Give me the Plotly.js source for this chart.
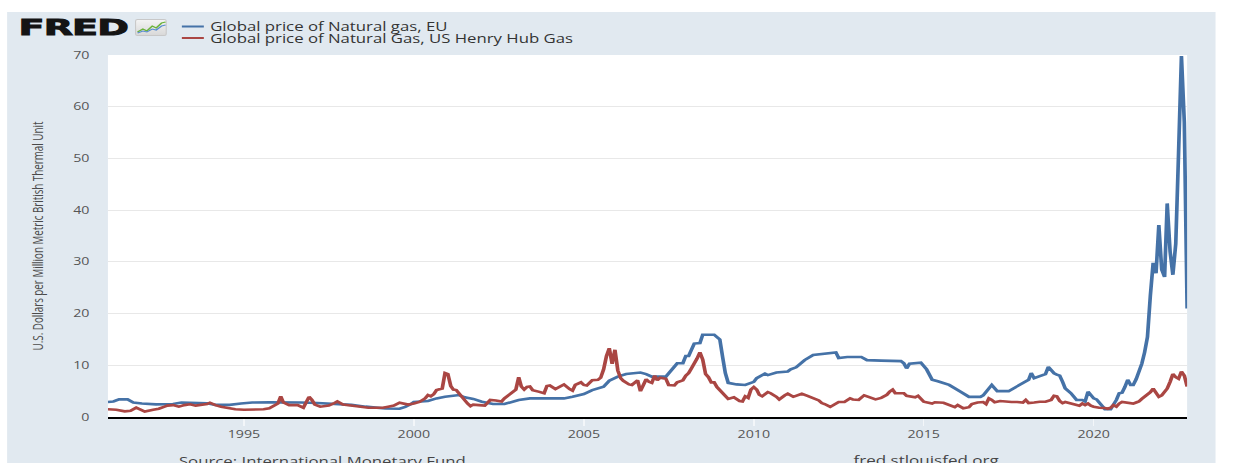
<!DOCTYPE html>
<html>
<head>
<meta charset="utf-8">
<script src="https://cdn.plot.ly/plotly-3.0.1.min.js"></script>
<style>
  html, body { margin:0; padding:0; background:#ffffff; overflow:hidden; width:1233px; height:463px; }
  #stage { position:absolute; left:0; top:0; height:463px; overflow:hidden; transform-origin:0 0; }
  #chart { position:absolute; }
  #logo { position:absolute; top:14px; font-family:"DejaVu Sans", sans-serif; font-weight:bold; font-size:22px; color:#141414; line-height:28px; transform-origin:0 0; white-space:nowrap; -webkit-text-stroke:0.9px #141414; letter-spacing:-0.5px; }
  #icon { position:absolute; }
</style>
</head>
<body>
<div id="stage">
  <div id="chart"></div>
  <div id="logo">FRED</div>
  <svg id="icon" viewBox="0 0 24 17" preserveAspectRatio="none">
    <defs><linearGradient id="g" x1="0" y1="0" x2="0" y2="1"><stop offset="0" stop-color="#f4f4f4"/><stop offset="1" stop-color="#d8d8d8"/></linearGradient></defs>
    <rect x="0.5" y="0.5" width="23" height="16" rx="1.5" fill="url(#g)" stroke="#c8c8c8" stroke-width="0.8"/>
    <polyline points="2,13 6,10 9,12 13,7 16,9 20,4 23,3" fill="none" stroke="#6bb33a" stroke-width="1.3"/>
    <polyline points="2,14 6,12 9,13 13,10 16,11 20,7 23,6" fill="none" stroke="#5b8fd0" stroke-width="1.1"/>
  </svg>
</div>
<script>
// ---------------- data ----------------
const euName = "Global price of Natural gas, EU";
const usName = "Global price of Natural Gas, US Henry Hub Gas";

const euDates = [
'1991-01','1991-03','1991-05','1991-08','1991-10',
'1992-01','1992-06','1992-12',
'1993-03','1993-08','1993-12',
'1994-03','1994-08','1994-12',
'1995-04','1995-10',
'1996-04','1996-09',
'1997-03','1997-09',
'1998-03','1998-08','1998-12',
'1999-03','1999-08','1999-10','1999-12',
'2000-01','2000-06','2000-09','2000-12',
'2001-02','2001-05','2001-07','2001-10',
'2002-01','2002-05','2002-09','2002-11',
'2003-02','2003-06',
'2004-03','2004-06','2004-09',
'2005-01','2005-04','2005-08','2005-10',
'2006-01','2006-04','2006-09','2006-11',
'2007-01','2007-06','2007-07','2007-10','2007-12',
'2008-01','2008-02','2008-04','2008-06','2008-07','2008-11',
'2009-01','2009-02','2009-03','2009-04','2009-07','2009-10',
'2010-01','2010-02','2010-04','2010-05','2010-06','2010-09',
'2011-01','2011-02','2011-04','2011-05','2011-07','2011-10',
'2012-01','2012-04','2012-06','2012-07','2012-10',
'2013-03','2013-05','2013-10',
'2014-05','2014-06','2014-07','2014-08','2014-12',
'2015-02','2015-04','2015-06','2015-10',
'2016-02','2016-05','2016-09','2016-10',
'2017-01','2017-03','2017-07','2017-09','2017-11',
'2018-01','2018-02','2018-03','2018-04','2018-06','2018-08','2018-09','2018-10','2018-11','2018-12',
'2019-01','2019-02','2019-03','2019-05','2019-06','2019-07','2019-09','2019-10','2019-11','2019-12',
'2020-01','2020-02','2020-03','2020-04','2020-05','2020-07','2020-08','2020-09','2020-10','2020-11','2020-12',
'2021-01','2021-02','2021-03','2021-04','2021-05','2021-06','2021-07','2021-08','2021-09','2021-10','2021-11','2021-12',
'2022-01','2022-02','2022-03','2022-04','2022-05','2022-06','2022-07','2022-08','2022-09','2022-10'
];
const euValues = [
2.9,3.0,3.4,3.4,2.8,
2.6,2.45,2.5,
2.8,2.75,2.65,
2.35,2.35,2.6,
2.8,2.85,
2.85,2.8,
2.7,2.5,
2.35,2.0,1.8,
1.65,1.6,1.95,2.5,
2.9,3.1,3.6,3.9,
4.1,4.25,3.8,3.5,
2.96,2.5,2.5,2.84,
3.3,3.6,
3.6,3.6,3.93,
4.45,5.2,5.87,7.0,
7.8,8.3,8.6,8.3,
7.8,7.8,8.5,10.4,10.4,
11.8,11.8,14.2,14.3,15.9,15.9,
15.0,11.5,8.5,6.6,6.3,6.2,
6.8,7.5,8.0,8.4,8.1,8.6,
8.8,9.2,9.6,10.0,11.0,12.0,
12.2,12.4,12.5,11.4,11.6,
11.6,11.0,10.9,
10.8,10.4,9.4,10.3,10.5,
9.2,7.2,6.9,6.2,
4.9,3.9,3.9,4.2,
6.2,5.0,5.0,5.6,6.3,
6.8,7.2,8.5,7.5,7.9,8.3,9.7,9.0,8.45,8.2,
8.0,6.8,5.55,4.6,4.0,3.3,3.3,3.0,4.9,4.2,
3.6,3.4,2.7,2.0,1.5,1.5,2.3,3.3,4.6,4.7,5.8,
7.2,6.2,6.2,7.3,8.8,10.3,12.5,15.5,23.5,29.8,27.8,37.1,
28.5,27.1,41.3,32,27.5,33.5,51,69.8,57,21
];

const usDates = [
'1991-01','1991-04','1991-07','1991-09','1991-11',
'1992-01','1992-02','1992-05','1992-07','1992-09','1992-10','1992-12',
'1993-02','1993-04','1993-06','1993-08','1993-10','1993-12',
'1994-01','1994-03','1994-05','1994-08','1994-10',
'1995-01','1995-05','1995-08','1995-10','1995-12',
'1996-01','1996-02','1996-03','1996-05','1996-08','1996-10','1996-11','1996-12',
'1997-01','1997-02','1997-04','1997-07','1997-09','1997-10','1997-12',
'1998-03','1998-06','1998-09','1998-12',
'1999-02','1999-04','1999-06','1999-08','1999-09','1999-11',
'2000-01','2000-03','2000-05','2000-06','2000-07','2000-08','2000-09','2000-11','2000-12',
'2001-01','2001-02','2001-03','2001-04','2001-05','2001-06','2001-07','2001-08','2001-09','2001-10','2001-12',
'2002-02','2002-03','2002-04','2002-06','2002-08','2002-09','2002-10','2002-12',
'2003-01','2003-02','2003-03','2003-04','2003-05','2003-06','2003-07','2003-09','2003-11','2003-12',
'2004-01','2004-03','2004-05','2004-06','2004-08','2004-09','2004-10','2004-12',
'2005-01','2005-02','2005-04','2005-06','2005-07','2005-08','2005-09','2005-10','2005-11','2005-12',
'2006-01','2006-02','2006-03','2006-05','2006-06','2006-08','2006-09','2006-10','2006-11','2006-12',
'2007-01','2007-02','2007-03','2007-04','2007-06','2007-07','2007-09','2007-10','2007-12',
'2008-01','2008-02','2008-03','2008-04','2008-05','2008-06','2008-07','2008-08','2008-09','2008-10','2008-11','2008-12',
'2009-01','2009-02','2009-03','2009-04','2009-06','2009-08','2009-09','2009-10','2009-11','2009-12',
'2010-01','2010-02','2010-03','2010-04','2010-06','2010-07','2010-09','2010-10','2010-12',
'2011-01','2011-03','2011-06','2011-08','2011-10','2011-12',
'2012-01','2012-02','2012-04','2012-06','2012-07','2012-09','2012-11','2012-12',
'2013-02','2013-04','2013-06','2013-08','2013-10','2013-12',
'2014-01','2014-02','2014-03','2014-06','2014-07','2014-10','2014-11','2014-12',
'2015-01','2015-04','2015-05','2015-08','2015-10','2015-12',
'2016-01','2016-03','2016-05','2016-06','2016-08','2016-10','2016-11','2016-12',
'2017-01','2017-02','2017-04','2017-06','2017-08','2017-10','2017-12',
'2018-01','2018-02','2018-04','2018-06','2018-08','2018-10','2018-11','2018-12',
'2019-01','2019-02','2019-03','2019-05','2019-07','2019-08','2019-09','2019-10','2019-11','2019-12',
'2020-01','2020-03','2020-05','2020-06','2020-07','2020-08','2020-09','2020-10','2020-11','2020-12',
'2021-01','2021-03','2021-04','2021-05','2021-06','2021-07','2021-08','2021-09','2021-10','2021-11','2021-12',
'2022-01','2022-02','2022-03','2022-04','2022-05','2022-06','2022-07','2022-08','2022-09','2022-10'
];
const usValues = [
1.5,1.4,1.1,1.2,1.8,
1.2,1.05,1.4,1.6,2.0,2.2,2.3,
2.0,2.3,2.45,2.2,2.4,2.5,
2.77,2.3,2.0,1.7,1.5,
1.4,1.45,1.5,1.7,2.3,
2.6,4.0,2.8,2.3,2.3,1.8,2.9,3.9,
3.3,2.4,2.0,2.2,2.7,3.0,2.4,
2.2,2.0,1.8,1.8,
1.8,2.0,2.2,2.75,2.6,2.4,
2.6,2.9,3.6,4.25,4.0,4.4,5.2,5.5,8.5,
8.3,6.0,5.3,5.2,4.5,4.0,3.3,2.6,2.1,2.4,2.3,
2.2,2.7,3.3,3.2,3.0,3.6,4.0,4.8,
5.3,7.7,5.9,5.3,5.8,5.9,5.2,4.9,4.6,6.0,
6.1,5.4,6.1,6.3,5.4,5.1,6.2,6.7,
6.2,6.1,7.1,7.2,7.6,9.2,11.8,13.3,10.3,13.0,
9.0,7.5,7.0,6.3,6.2,7.1,5.0,6.3,7.3,6.8,
6.6,8.0,7.1,7.6,7.4,6.2,6.1,6.7,7.1,
8.0,8.5,9.4,10.2,11.3,12.5,11.1,8.3,7.7,6.7,6.7,5.8,
5.2,4.5,4.0,3.5,3.8,3.1,3.0,4.0,3.7,5.3,
5.8,5.3,4.3,4.0,4.8,4.6,3.9,3.4,4.2,
4.5,3.9,4.5,4.1,3.6,3.2,
2.7,2.5,1.95,2.5,2.9,2.9,3.6,3.4,
3.3,4.2,3.8,3.4,3.7,4.3,
4.9,5.3,4.6,4.6,4.1,3.8,4.1,3.5,
2.95,2.6,2.85,2.75,2.3,1.9,
2.3,1.7,1.9,2.5,2.8,2.9,2.5,3.6,
3.3,2.85,3.1,2.95,2.9,2.9,2.8,
3.3,2.7,2.8,2.95,2.95,3.3,4.1,4.0,
3.1,2.7,2.9,2.6,2.4,2.2,2.6,2.3,2.6,2.2,
2.0,1.8,1.75,1.6,1.8,2.3,2.0,2.6,2.9,2.8,
2.7,2.6,2.8,3.0,3.5,3.9,4.2,4.8,5.5,4.8,3.9,
4.2,4.8,5.5,6.8,8.3,7.7,7.4,8.8,8.0,5.9
];

const xTickVals = ['1995-01-01','2000-01-01','2005-01-01','2010-01-01','2015-01-01','2020-01-01'];
const xTickText = ['1995','2000','2005','2010','2015','2020'];
const yTickVals = [0,10,20,30,40,50,60,70];
const yTitle = "U.S. Dollars per Million Metric British Thermal Unit";
const sourceText = "Source: International Monetary Fund";
const siteText = "fred.stlouisfed.org";

// ---------------- geometry (screen pixels of the reference) ----------------
const SX = 1.42;                       // the reference is stretched horizontally
const PANEL = {left: 7, right: 1216, top: 12, height: 480};
const PLOT = {left: 108, right: 1188, top: 55, bottom: 417};
const px = sx => (sx - PLOT.left) / (PLOT.right - PLOT.left);
const py = sy => (PLOT.bottom - sy) / (PLOT.bottom - PLOT.top);

const stage = document.getElementById('stage');
stage.style.width = (1233 / SX) + 'px';
stage.style.transform = 'scaleX(' + SX + ')';
const chart = document.getElementById('chart');
chart.style.left = (PANEL.left / SX) + 'px';
chart.style.top = PANEL.top + 'px';
chart.style.width = ((PANEL.right - PANEL.left) / SX) + 'px';
chart.style.height = PANEL.height + 'px';

const logo = document.getElementById('logo');
logo.style.left = (19 / SX) + 'px';
logo.style.transform = 'scaleX(1.22)';
const icon = document.getElementById('icon');
icon.style.left = (135 / SX) + 'px';
icon.style.top = '19px';
icon.style.width = (32 / SX) + 'px';
icon.style.height = '17px';

const BLUE = '#4572a7', RED = '#aa4643';
const FONT = '"Open Sans", "DejaVu Sans", sans-serif';
const NARROW = '"Liberation Sans Narrow", "Arial Narrow", "Open Sans", sans-serif';

const traces = [
  {x: euDates, y: euValues, name: euName, type: 'scatter', mode: 'lines',
   line: {color: BLUE, width: 2.6}, hoverinfo: 'skip'},
  {x: usDates, y: usValues, name: usName, type: 'scatter', mode: 'lines',
   line: {color: RED, width: 2.6}, hoverinfo: 'skip'}
];

const legendRows = [{name: euName, color: BLUE, y: 26.5}, {name: usName, color: RED, y: 38}];
const shapes = legendRows.map(r => ({
  type: 'line', xref: 'paper', yref: 'paper',
  x0: px(182), x1: px(204), y0: py(r.y), y1: py(r.y),
  line: {color: r.color, width: 2}
}));
const annotations = legendRows.map(r => ({
  xref: 'paper', yref: 'paper', x: px(208), y: py(r.y), xanchor: 'left', yanchor: 'middle',
  text: r.name, showarrow: false, font: {family: FONT, size: 11.8, color: '#333333'}
}));
annotations.push({xref: 'paper', yref: 'paper', x: px(176), y: py(461), xanchor: 'left', yanchor: 'middle',
  text: sourceText, showarrow: false, font: {family: FONT, size: 11.8, color: '#444444'}});
annotations.push({xref: 'paper', yref: 'paper', x: px(851), y: py(461), xanchor: 'left', yanchor: 'middle',
  text: siteText, showarrow: false, font: {family: FONT, size: 12, color: '#444444'}});

const layout = {
  width: (PANEL.right - PANEL.left) / SX,
  height: PANEL.height,
  margin: {l: (PLOT.left - PANEL.left) / SX, r: (PANEL.right - PLOT.right) / SX,
           t: PLOT.top - PANEL.top, b: PANEL.height - (PLOT.bottom - PANEL.top), pad: 0},
  paper_bgcolor: '#e1e9f0',
  plot_bgcolor: '#ffffff',
  showlegend: false,
  font: {family: FONT, color: '#555555'},
  xaxis: {
    type: 'date', range: [euDates[0], euDates[euDates.length - 1]],
    tickmode: 'array', tickvals: xTickVals, ticktext: xTickText,
    showgrid: false, zeroline: false,
    showline: true, linecolor: '#000000', linewidth: 2,
    ticks: 'outside', ticklen: 7, tickwidth: 1, tickcolor: '#f3f6f9',
    tickfont: {family: FONT, size: 10, color: '#555555'}
  },
  yaxis: {
    range: [0, 70], tickmode: 'array', tickvals: yTickVals,
    showgrid: true, gridcolor: '#e8e8e8', gridwidth: 1,
    zeroline: false, showline: false, ticks: '',
    ticklabelstandoff: 12,
    tickfont: {family: FONT, size: 10, color: '#555555'},
    title: {text: yTitle, standoff: 18, font: {family: NARROW, size: 9.8, color: '#4a4a4a'}}
  },
  shapes: shapes,
  annotations: annotations
};

Plotly.newPlot(chart, traces, layout, {displayModeBar: false, staticPlot: true});
</script>
</body>
</html>
